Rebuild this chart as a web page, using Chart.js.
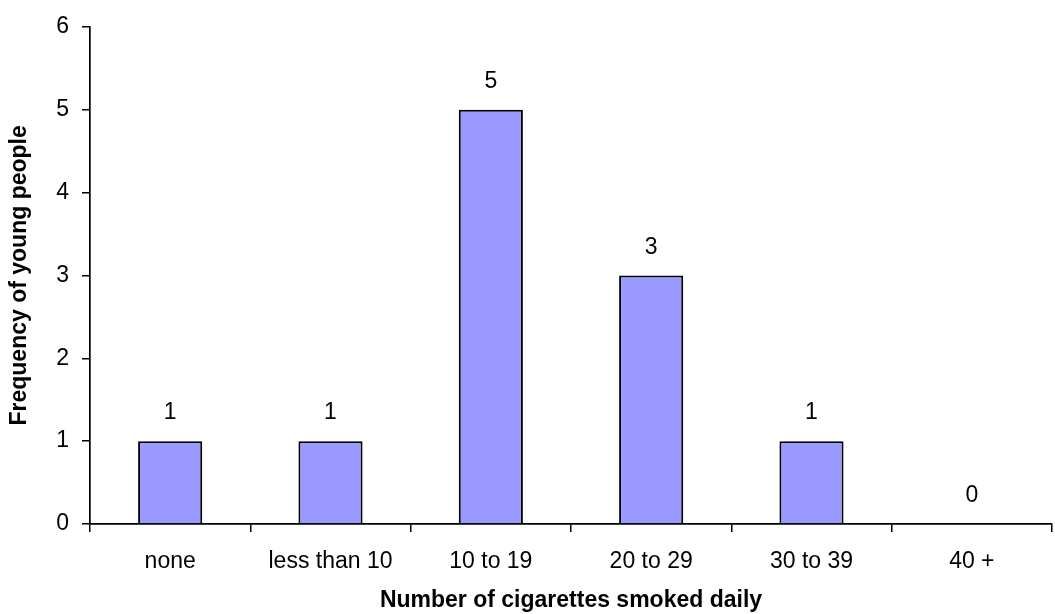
<!DOCTYPE html>
<html><head><meta charset="utf-8">
<script src="https://cdn.jsdelivr.net/npm/chart.js@4"></script>
<style>html,body{margin:0;padding:0;background:#fff}#wrap{width:1055px;height:614px}</style>
</head><body><div id="wrap"><canvas id="c" width="1055" height="614"></canvas></div>
<script>
const categories = ["none", "less than 10", "10 to 19", "20 to 29", "30 to 39", "40 +"];
const frequencies = [1, 1, 5, 3, 1, 0];
const yTicks = [0, 1, 2, 3, 4, 5, 6];
const xTitle = "Number of cigarettes smoked daily";
const yTitle = "Frequency of young people";

const FONT = "'Liberation Sans', Arial, sans-serif";

const valueLabels = {
  id: 'valueLabels',
  afterDatasetsDraw(chart) {
    const ctx = chart.ctx;
    const meta = chart.getDatasetMeta(0);
    ctx.save();
    ctx.font = "23px " + FONT;
    ctx.fillStyle = "#000";
    ctx.textAlign = "center";
    ctx.textBaseline = "middle";
    meta.data.forEach((bar, i) => {
      ctx.fillText(String(frequencies[i]), bar.x, bar.y - 28);
    });
    ctx.restore();
  }
};

new Chart(document.getElementById('c'), {
  type: 'bar',
  data: {
    labels: categories,
    datasets: [{
      data: frequencies,
      backgroundColor: '#9999FF',
      borderColor: '#000',
      borderWidth: 2,
      barPercentage: 0.4,
      categoryPercentage: 1.0
    }]
  },
  options: {
    responsive: false,
    animation: false,
    devicePixelRatio: 1,
    layout: { padding: { top: 26, right: 3, left: 0, bottom: 0 } },
    plugins: { legend: { display: false }, tooltip: { enabled: false } },
    scales: {
      x: {
        grid: { display: true, drawOnChartArea: false, offset: true, tickLength: 8, color: '#000', lineWidth: 1.5 },
        border: { display: true, color: '#000', width: 1.7 },
        ticks: { color: '#000', font: { family: FONT, size: 23 }, padding: 16, maxRotation: 0 },
        title: { display: true, text: xTitle, color: '#000', font: { family: FONT, size: 23, weight: 'bold' }, padding: { top: 4, bottom: 0 } },
        afterFit(scale) { scale.height = 90; }
      },
      y: {
        min: 0, max: 6,
        afterBuildTicks(scale) { scale.ticks = yTicks.map(v => ({ value: v })); },
        grid: { display: true, drawOnChartArea: false, tickLength: 8, color: '#000', lineWidth: 1.5 },
        border: { display: true, color: '#000', width: 1.7 },
        ticks: { color: '#000', font: { family: FONT, size: 23 }, padding: 13 },
        title: { display: true, text: yTitle, color: '#000', font: { family: FONT, size: 23, weight: 'bold' }, padding: { top: 6, bottom: 4 } },
        afterFit(scale) { scale.width = 90; }
      }
    }
  },
  plugins: [valueLabels]
});
</script></body></html>
